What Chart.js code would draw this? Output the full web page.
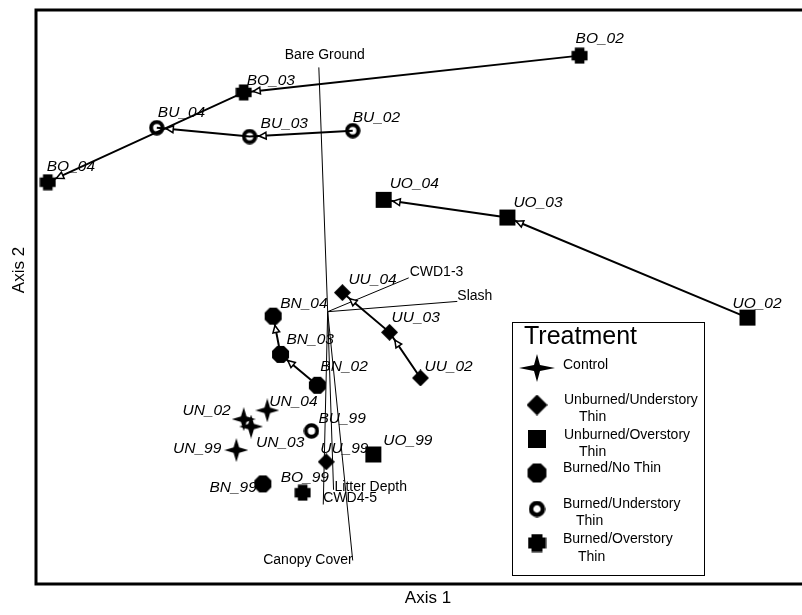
<!DOCTYPE html>
<html>
<head>
<meta charset="utf-8">
<script src="https://cdn.jsdelivr.net/npm/chart.js@4.4.1/dist/chart.umd.min.js"></script>
<style>
  html, body { margin: 0; padding: 0; background: #fff; }
  #wrap { width: 802px; height: 615px; position: relative; }
</style>
</head>
<body>
<div id="wrap"><canvas id="c"></canvas></div>
<script>
// ---- Ordination scores of each treatment-year sample ----
const sites = ['BO_02','BO_03','BO_04','BU_02','BU_03','BU_04','UO_02','UO_03','UO_04',
               'UU_02','UU_03','UU_04','BN_02','BN_03','BN_04','UN_02','UN_03','UN_04',
               'UN_99','BU_99','UU_99','UO_99','BN_99','BO_99'];
const axis1Scores = [1.69,-0.59,-1.92, 0.15,-0.55,-1.18, 2.83, 1.20, 0.36,
                     0.61, 0.40, 0.08,-0.09,-0.34,-0.39,-0.59,-0.54,-0.43,
                    -0.64,-0.13,-0.03, 0.29,-0.46,-0.19];
const axis2Scores = [1.69, 1.44, 0.83, 1.18, 1.14, 1.20,-0.09, 0.59, 0.71,
                    -0.50,-0.19, 0.08,-0.55,-0.34,-0.08,-0.78,-0.83,-0.72,
                    -0.99,-0.86,-1.07,-1.02,-1.22,-1.28];

// Treatment groups, in legend order
const treatmentCodes = ['UN','UU','UO','BN','BU','BO'];
const treatmentNames = ['Control', 'Unburned/Understory|Thin', 'Unburned/Overstory|Thin',
                        'Burned/No Thin', 'Burned/Understory|Thin', 'Burned/Overstory|Thin'];

// Year-to-year trajectories (2002 -> 2003 -> 2004)
const trajectories = [
  ['BO_02','BO_03','BO_04'],
  ['BU_02','BU_03','BU_04'],
  ['UO_02','UO_03','UO_04'],
  ['UU_02','UU_03','UU_04'],
  ['BN_02','BN_03','BN_04']
];

// Environmental variable vectors (joint plot)
const vectorNames  = ['Bare Ground','Canopy Cover','CWD1-3','Slash','Litter Depth','CWD4-5'];
const vectorAxis1  = [-0.08, 0.15, 0.53, 0.86, 0.02,-0.05];
const vectorAxis2  = [ 1.61,-1.74, 0.18, 0.02,-1.26,-1.36];
const vectorOrigin = [-0.02,-0.05];

// ---- Styling ----
const FONT = '"Liberation Sans", Arial, sans-serif';

// label placement relative to the marker: [dx, dy, align]
const siteLabelPlacement = {
  BO_02:[-4,-17,'left'], BO_03:[3,-12,'left'], BO_04:[-1,-16,'left'],
  BU_02:[0,-13,'left'], BU_03:[11,-13,'left'], BU_04:[1,-15,'left'],
  UO_02:[-15,-14,'left'], UO_03:[6,-15,'left'], UO_04:[6,-16,'left'],
  UU_02:[4,-11,'left'], UU_03:[2,-15,'left'], UU_04:[6,-13,'left'],
  BN_02:[3,-19,'left'], BN_03:[6,-15,'left'], BN_04:[7,-12,'left'],
  UN_02:[-13,-8,'right'], UN_03:[5,16,'left'], UN_04:[2,-9,'left'],
  UN_99:[-15,-1,'right'], BU_99:[7,-12,'left'], UU_99:[-6,-13,'left'],
  UO_99:[10,-14,'left'], BN_99:[-6,4,'right'], BO_99:[-22,-15,'left']
};
const vectorLabelPlacement = {
  'Bare Ground':[6,-12,'center'], 'Canopy Cover':[0,0,'right'], 'CWD1-3':[1,-6,'left'],
  'Slash':[0,-5,'left'], 'Litter Depth':[1,-3,'left'], 'CWD4-5':[0,-6,'left']
};

const markerShape = { UN:'star', UU:'diamond', UO:'square', BN:'octagon', BU:'ring', BO:'plus' };

function makeMarker(shape, w, h, p) {
  const c = document.createElement('canvas');
  c.width = w; c.height = h;
  const g = c.getContext('2d');
  g.translate(w / 2, h / 2);
  g.fillStyle = '#000'; g.strokeStyle = '#000';
  const rx = w / 2, ry = h / 2;
  g.beginPath();
  if (shape === 'star') {
    const k = p;
    g.moveTo(0, -ry); g.lineTo(k, -k); g.lineTo(rx, 0); g.lineTo(k, k);
    g.lineTo(0, ry); g.lineTo(-k, k); g.lineTo(-rx, 0); g.lineTo(-k, -k);
    g.closePath(); g.fill();
  } else if (shape === 'diamond') {
    g.moveTo(0, -ry); g.lineTo(rx, 0); g.lineTo(0, ry); g.lineTo(-rx, 0);
    g.closePath(); g.fill();
  } else if (shape === 'square') {
    g.rect(-p / 2, -p / 2, p, p); g.fill();
  } else if (shape === 'octagon') {
    const r = p;
    for (let i = 0; i < 8; i++) {
      const a = Math.PI / 8 + i * Math.PI / 4;
      const x = r * Math.cos(a), y = r * Math.sin(a);
      if (i === 0) g.moveTo(x, y); else g.lineTo(x, y);
    }
    g.closePath(); g.fill();
  } else if (shape === 'ring') {
    g.lineWidth = p;
    g.arc(0, 0, rx - p / 2 - 0.3, 0, Math.PI * 2);
    g.stroke();
  } else if (shape === 'plus') {
    const a = rx - 0.5, b = p;
    g.moveTo(-b, -a); g.lineTo(b, -a); g.lineTo(b, -b); g.lineTo(a, -b);
    g.lineTo(a, b); g.lineTo(b, b); g.lineTo(b, a); g.lineTo(-b, a);
    g.lineTo(-b, b); g.lineTo(-a, b); g.lineTo(-a, -b); g.lineTo(-b, -b);
    g.closePath(); g.fill();
  }
  return c;
}

const plotMarkers = {
  star: makeMarker('star', 24, 24, 2.8),
  diamond: makeMarker('diamond', 17, 17),
  square: makeMarker('square', 18, 18, 16),
  octagon: makeMarker('octagon', 19, 19, 9.2),
  ring: makeMarker('ring', 16, 16, 4),
  plus: makeMarker('plus', 17, 17, 4.8)
};
const legendMarkers = {
  star: makeMarker('star', 36, 28, 3),
  diamond: makeMarker('diamond', 21, 21),
  square: makeMarker('square', 20, 20, 18),
  octagon: makeMarker('octagon', 21, 21, 10.2),
  ring: makeMarker('ring', 17, 17, 4.5),
  plus: makeMarker('plus', 19, 19, 5.5)
};

// ---- Datasets ----
const siteIndex = name => sites.indexOf(name);
const pt = name => ({ x: axis1Scores[siteIndex(name)], y: axis2Scores[siteIndex(name)] });

const datasets = [];

treatmentCodes.forEach(code => {
  datasets.push({
    label: code,
    type: 'scatter',
    data: sites.filter(s => s.startsWith(code + '_')).map(pt),
    pointStyle: plotMarkers[markerShape[code]],
    pointRadius: 9,
    order: 0
  });
});

trajectories.forEach(path => {
  datasets.push({
    label: path[0].slice(0, 2) + ' trajectory',
    type: 'line',
    data: path.map(pt),
    showLine: true,
    borderColor: '#000',
    borderWidth: 2,
    pointRadius: 0,
    fill: false,
    tension: 0,
    isTrajectory: true,
    order: 1
  });
});

vectorNames.forEach((name, i) => {
  datasets.push({
    label: name,
    type: 'line',
    data: [{ x: vectorOrigin[0], y: vectorOrigin[1] }, { x: vectorAxis1[i], y: vectorAxis2[i] }],
    showLine: true,
    borderColor: '#000',
    borderWidth: 1,
    pointRadius: 0,
    fill: false,
    order: 2
  });
});

// ---- Plugins ----
const arrowheads = {
  id: 'arrowheads',
  afterDatasetDraw(chart, args) {
    const ds = chart.data.datasets[args.index];
    if (!ds.isTrajectory) return;
    const pts = args.meta.data;
    const ctx = chart.ctx;
    for (let i = 1; i < pts.length; i++) {
      const a = pts[i - 1], b = pts[i];
      const ang = Math.atan2(b.y - a.y, b.x - a.x);
      const tipX = b.x - Math.cos(ang) * 9.5, tipY = b.y - Math.sin(ang) * 9.5;
      const len = 7, half = 3.4;
      const bx = tipX - Math.cos(ang) * len, by = tipY - Math.sin(ang) * len;
      const nx = -Math.sin(ang) * half, ny = Math.cos(ang) * half;
      ctx.save();
      ctx.beginPath();
      ctx.moveTo(tipX, tipY);
      ctx.lineTo(bx + nx, by + ny);
      ctx.lineTo(bx - nx, by - ny);
      ctx.closePath();
      ctx.fillStyle = '#fff';
      ctx.fill();
      ctx.lineWidth = 1.5;
      ctx.strokeStyle = '#000';
      ctx.lineJoin = 'miter';
      ctx.stroke();
      ctx.restore();
    }
  }
};

const annotations = {
  id: 'annotations',
  afterDraw(chart) {
    const ctx = chart.ctx;
    const xs = chart.scales.x, ys = chart.scales.y;
    const area = chart.chartArea;

    // frame
    ctx.save();
    ctx.strokeStyle = '#000';
    ctx.lineWidth = 3;
    ctx.beginPath();
    ctx.moveTo(chart.width + 5, area.top);
    ctx.lineTo(area.left, area.top);
    ctx.lineTo(area.left, area.bottom);
    ctx.lineTo(chart.width + 5, area.bottom);
    ctx.stroke();
    ctx.restore();

    // sample labels
    ctx.save();
    ctx.fillStyle = '#000';
    ctx.textBaseline = 'middle';
    ctx.font = 'italic 15.5px ' + FONT;
    sites.forEach((s, i) => {
      const [dx, dy, al] = siteLabelPlacement[s];
      ctx.textAlign = al;
      ctx.fillText(s, xs.getPixelForValue(axis1Scores[i]) + dx, ys.getPixelForValue(axis2Scores[i]) + dy);
    });
    // vector labels
    ctx.font = '14px ' + FONT;
    vectorNames.forEach((v, i) => {
      const [dx, dy, al] = vectorLabelPlacement[v];
      ctx.textAlign = al;
      ctx.fillText(v, xs.getPixelForValue(vectorAxis1[i]) + dx, ys.getPixelForValue(vectorAxis2[i]) + dy);
    });
    ctx.restore();

    // axis titles
    ctx.save();
    ctx.fillStyle = '#000';
    ctx.font = '17px ' + FONT;
    ctx.textAlign = 'center';
    ctx.textBaseline = 'middle';
    ctx.fillText('Axis 1', 428, 598);
    ctx.translate(19, 270);
    ctx.rotate(-Math.PI / 2);
    ctx.fillText('Axis 2', 0, 0);
    ctx.restore();

    // legend
    ctx.save();
    ctx.fillStyle = '#fff';
    ctx.fillRect(512, 322, 192, 253);
    ctx.strokeStyle = '#000';
    ctx.lineWidth = 1;
    ctx.strokeRect(512.5, 322.5, 192, 253);
    ctx.fillStyle = '#000';
    ctx.textBaseline = 'middle';
    ctx.textAlign = 'left';
    ctx.font = '25px ' + FONT;
    ctx.fillText('Treatment', 524, 337);
    const rows = [
      { m: 368, t: [[563, 365]] },
      { m: 405, t: [[564, 400], [579, 417]] },
      { m: 439, t: [[564, 435], [579, 452]] },
      { m: 473, t: [[563, 468]] },
      { m: 509, t: [[563, 504], [576, 521]] },
      { m: 543, t: [[563, 539], [578, 557]] }
    ];
    ctx.font = '14px ' + FONT;
    treatmentCodes.forEach((code, i) => {
      const img = legendMarkers[markerShape[code]];
      ctx.drawImage(img, 537 - img.width / 2, rows[i].m - img.height / 2);
      treatmentNames[i].split('|').forEach((line, j) => {
        const [tx, ty] = rows[i].t[j];
        ctx.fillText(line, tx, ty);
      });
    });
    ctx.restore();
  }
};

new Chart(document.getElementById('c'), {
  type: 'scatter',
  data: { datasets },
  options: {
    responsive: true,
    maintainAspectRatio: false,
    animation: false,
    events: [],
    layout: { autoPadding: false, padding: { left: 36, top: 10, right: 0, bottom: 31 } },
    scales: {
      x: { type: 'linear', display: false, min: -2.0, max: 3.2 },
      y: { type: 'linear', display: false, min: -1.9, max: 2.0 }
    },
    plugins: { legend: { display: false }, tooltip: { enabled: false } }
  },
  plugins: [arrowheads, annotations]
});
</script>
</body>
</html>
